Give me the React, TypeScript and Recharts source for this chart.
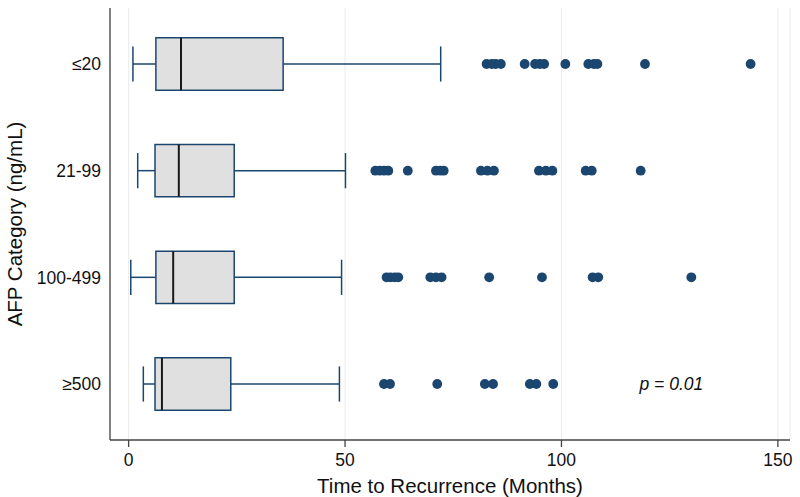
import React from 'react';
import {
  ComposedChart, Scatter, XAxis, YAxis, CartesianGrid, ReferenceArea, ReferenceLine, ReferenceDot, Label,
} from 'recharts';

const categories = ['≤20', '21-99', '100-499', '≥500'];
const whiskerLow = [1.0, 2.1, 0.5, 3.4];
const q1 = [6.3, 6.1, 6.3, 6.1];
const median = [12.1, 11.6, 10.3, 7.7];
const q3 = [35.7, 24.4, 24.4, 23.6];
const whiskerHigh = [72.1, 50.1, 49.2, 48.7];

const outliersLe20 = [82.7, 83.9, 84.8, 86.0, 91.5, 93.9, 95.0, 96.0, 100.9, 106.2, 107.5, 108.3, 119.3, 143.7];
const outliers21to99 = [57.0, 58.0, 59.0, 60.0, 64.5, 71.0, 72.0, 72.8, 81.4, 82.9, 84.4, 94.8, 96.4, 97.9, 105.6, 107.0, 118.3];
const outliers100to499 = [59.6, 60.5, 61.5, 62.3, 69.7, 71.0, 72.3, 83.3, 95.5, 107.2, 108.5, 130.0];
const outliersGe500 = [59.0, 60.4, 71.3, 82.3, 84.2, 92.7, 94.2, 98.1];

const xTicks = [0, 50, 100, 150];
const pValueText = 'p = 0.01';

const outlierGroups = [outliersLe20, outliers21to99, outliers100to499, outliersGe500];
const outlierData = outlierGroups.flatMap((arr, i) => arr.map((x) => ({ x, y: i + 1 })));

const NAVY = '#1b4670';
const FONT = '"Liberation Sans", Arial, Helvetica, sans-serif';
const BOX_HALF = 0.245;
const CAP_HALF = 0.165;

const Dot = (props: any) => {
  const { cx, cy } = props;
  if (cx == null || cy == null) return null;
  return <circle cx={cx} cy={cy} r={4.9} fill={NAVY} />;
};

export default function App() {
  return (
    <div style={{ position: 'absolute', left: 0, top: 0, width: 800, height: 497, background: '#fff' }}>
      <ComposedChart
        width={800}
        height={497}
        data={outlierData}
        margin={{ top: 8, right: 10, bottom: 0, left: 10 }}
      >
        <CartesianGrid horizontal={false} stroke="#ebebeb" strokeWidth={1} />
        <XAxis
          type="number"
          dataKey="x"
          domain={[-4.3, 152.8]}
          ticks={xTicks}
          allowDataOverflow
          height={57}
          stroke="#444"
          strokeWidth={1.3}
          tickSize={7}
          tickMargin={7}
          tick={{ fill: '#111', fontSize: 17.5, fontFamily: FONT }}
        >
          <Label value="Time to Recurrence (Months)" position="insideBottom" offset={3.7} style={{ fill: '#111', fontSize: 20.5, fontFamily: FONT }} />
        </XAxis>
        <YAxis
          type="number"
          dataKey="y"
          domain={[0.475, 4.525]}
          reversed
          ticks={[1, 2, 3, 4]}
          tickFormatter={(v: number) => categories[v - 1] ?? ''}
          allowDataOverflow
          width={100}
          stroke="#444"
          strokeWidth={1.3}
          tickLine={false}
          tickSize={7}
          tickMargin={2}
          tick={{ fill: '#111', fontSize: 17.5, fontFamily: FONT }}
        >
          <Label value="AFP Category (ng/mL)" angle={-90} position="insideLeft" offset={5} style={{ textAnchor: 'middle', fill: '#111', fontSize: 20.5, fontFamily: FONT }} />
        </YAxis>

        {categories.map((c, i) => (
          <ReferenceLine key={`wl-${c}`} segment={[{ x: whiskerLow[i], y: i + 1 }, { x: q1[i], y: i + 1 }]} stroke={NAVY} strokeWidth={1.5} />
        ))}
        {categories.map((c, i) => (
          <ReferenceLine key={`wh-${c}`} segment={[{ x: q3[i], y: i + 1 }, { x: whiskerHigh[i], y: i + 1 }]} stroke={NAVY} strokeWidth={1.5} />
        ))}
        {categories.map((c, i) => (
          <ReferenceLine key={`cl-${c}`} segment={[{ x: whiskerLow[i], y: i + 1 - CAP_HALF }, { x: whiskerLow[i], y: i + 1 + CAP_HALF }]} stroke={NAVY} strokeWidth={1.5} />
        ))}
        {categories.map((c, i) => (
          <ReferenceLine key={`ch-${c}`} segment={[{ x: whiskerHigh[i], y: i + 1 - CAP_HALF }, { x: whiskerHigh[i], y: i + 1 + CAP_HALF }]} stroke={NAVY} strokeWidth={1.5} />
        ))}
        {categories.map((c, i) => (
          <ReferenceArea key={`box-${c}`} x1={q1[i]} x2={q3[i]} y1={i + 1 - BOX_HALF} y2={i + 1 + BOX_HALF} fill="#e0e0e0" fillOpacity={1} stroke={NAVY} strokeWidth={1.5} />
        ))}
        {categories.map((c, i) => (
          <ReferenceLine key={`md-${c}`} segment={[{ x: median[i], y: i + 1 - BOX_HALF }, { x: median[i], y: i + 1 + BOX_HALF }]} stroke="#1a1a1a" strokeWidth={2} />
        ))}

        <Scatter dataKey="x" data={outlierData} shape={<Dot />} isAnimationActive={false} />

        <ReferenceDot x={125.4} y={4} r={0} fill="none" stroke="none">
          <Label value={pValueText} position="center" style={{ fill: '#111', fontSize: 17.5, fontStyle: 'italic', fontFamily: FONT }} />
        </ReferenceDot>
      </ComposedChart>
    </div>
  );
}
